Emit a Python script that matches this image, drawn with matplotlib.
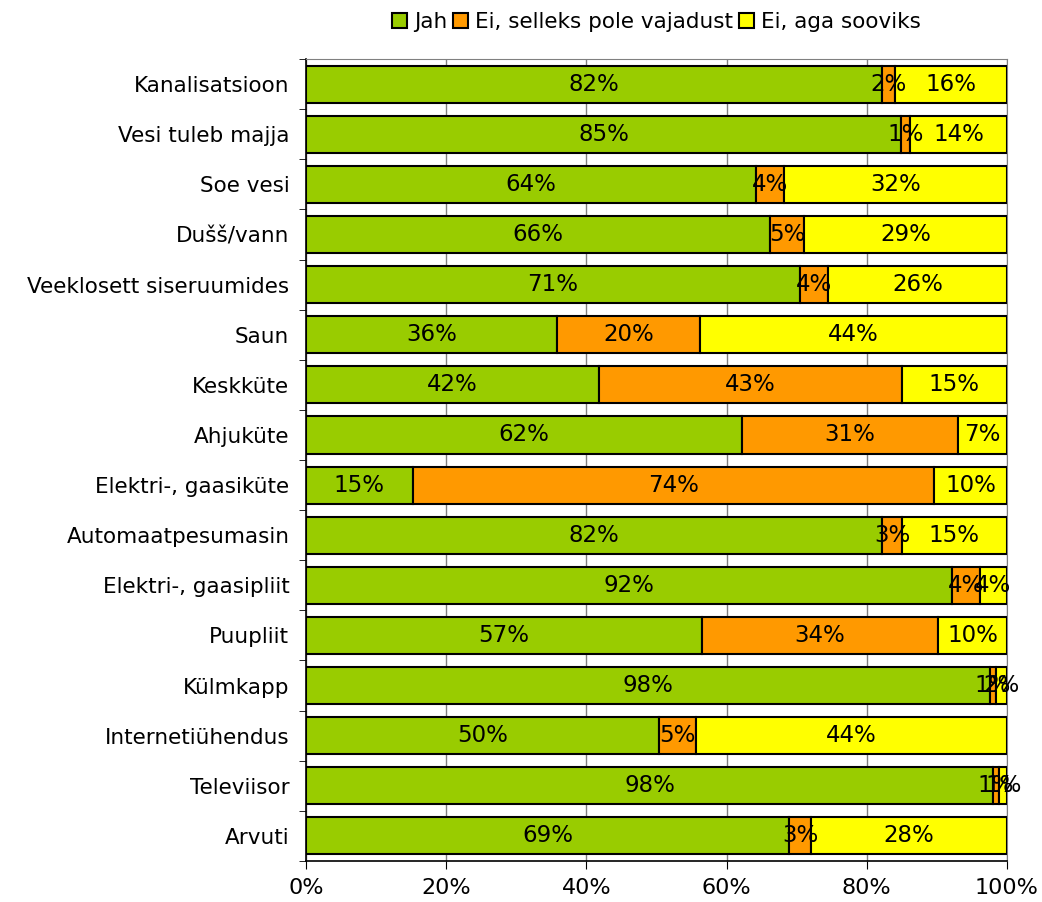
import matplotlib
import numpy as np

matplotlib.use("Agg")
import matplotlib.pyplot as plt

categories = [
    "Kanalisatsioon",
    "Vesi tuleb majja",
    "Soe vesi",
    "Dušš/vann",
    "Veeklosett siseruumides",
    "Saun",
    "Keskküte",
    "Ahjuküte",
    "Elektri-, gaasiküte",
    "Automaatpesumasin",
    "Elektri-, gaasipliit",
    "Puupliit",
    "Külmkapp",
    "Internetiühendus",
    "Televiisor",
    "Arvuti",
]
jah = [82.2, 84.9, 64.2, 66.2, 70.5, 35.8, 41.8, 62.2, 15.2, 82.2, 92.2, 56.5, 97.6, 50.4, 98.0, 68.9]
pole_vaja = [1.8, 1.3, 4.0, 4.8, 4.0, 20.4, 43.2, 30.8, 74.4, 2.8, 3.9, 33.7, 0.8, 5.2, 0.9, 3.2]
sooviks = [16.0, 13.8, 31.8, 29.0, 25.5, 43.8, 15.0, 7.0, 10.4, 15.0, 3.9, 9.8, 1.6, 44.4, 1.1, 27.9]
labels_jah = [82, 85, 64, 66, 71, 36, 42, 62, 15, 82, 92, 57, 98, 50, 98, 69]
labels_pole = [2, 1, 4, 5, 4, 20, 43, 31, 74, 3, 4, 34, 1, 5, 1, 3]
labels_sooviks = [16, 14, 32, 29, 26, 44, 15, 7, 10, 15, 4, 10, 2, 44, 1, 28]

series = [
    ("Jah", jah, labels_jah, "#99cc00"),
    ("Ei, selleks pole vajadust", pole_vaja, labels_pole, "#ff9900"),
    ("Ei, aga sooviks", sooviks, labels_sooviks, "#ffff00"),
]

plt.rcParams["font.family"] = ["DejaVu Sans"]
fs = 15.5

fig = plt.figure(figsize=(10.42, 9.02), dpi=100)
ax = fig.add_axes([0.2937, 0.0455, 0.6727, 0.889])

y = np.arange(len(categories))
left = np.zeros(len(categories))
for name, values, texts, color in series:
    values = np.array(values)
    ax.barh(y, values, left=left, height=0.74, color=color,
            edgecolor="black", linewidth=1.5, label=name, zorder=3)
    for yi, (l, v, t) in enumerate(zip(left, values, texts)):
        ax.text(l + v / 2, yi, f"{t}%", ha="center", va="center",
                fontsize=16.5, color="black", zorder=4)
    left = left + values

ax.set_xlim(0, 100)
ax.set_ylim(len(categories) - 0.5, -0.5)
ax.set_xticks([0, 20, 40, 60, 80, 100])
ax.set_xticklabels(["0%", "20%", "40%", "60%", "80%", "100%"], fontsize=16)
ax.set_yticks(y)
ax.set_yticklabels(categories, fontsize=fs)
ax.set_yticks(np.arange(-0.5, len(categories), 1), minor=True)
ax.tick_params(axis="y", which="major", length=0, pad=12)
ax.tick_params(axis="y", which="minor", length=5, direction="out")
ax.tick_params(axis="x", length=6, direction="out", pad=6)

ax.grid(axis="x", color="#808080", linewidth=1, zorder=0)
for side in ["top", "right"]:
    ax.spines[side].set_color("#808080")
for side in ["left", "bottom"]:
    ax.spines[side].set_color("black")
    ax.spines[side].set_linewidth(1.2)

fig.legend(*ax.get_legend_handles_labels(), loc="center",
           bbox_to_anchor=(0.63, 0.9756), ncol=3, frameon=False,
           fontsize=fs, handlelength=0.7, handleheight=0.7,
           handletextpad=0.3, columnspacing=0.3, borderaxespad=0)

fig.savefig("out.png", dpi=100)
